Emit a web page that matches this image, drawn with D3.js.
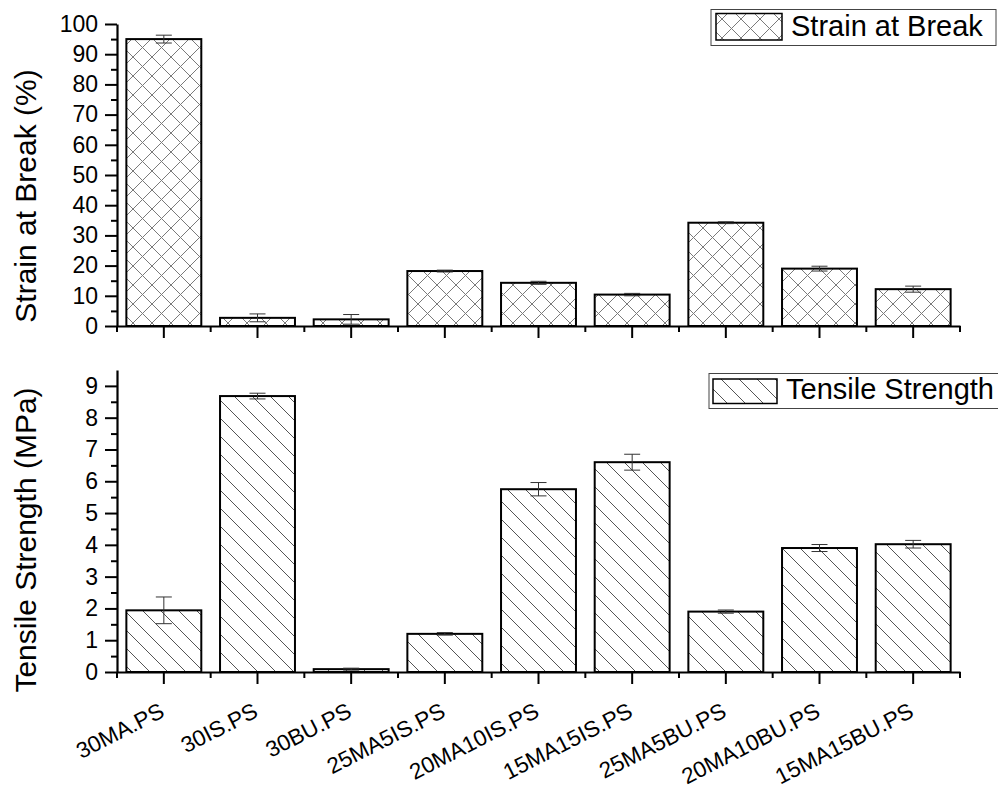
<!DOCTYPE html>
<html>
<head>
<meta charset="utf-8">
<script src="https://cdn.jsdelivr.net/npm/d3@7"></script>
<style>
  html, body { margin: 0; padding: 0; background: #fff; }
  svg { display: block; font-family: "Liberation Sans", Arial, sans-serif; }
</style>
</head>
<body>
<svg id="chart" width="998" height="790"></svg>
<script>
// Sample names along the shared x axis
const categories = ["30MA.PS", "30IS.PS", "30BU.PS", "25MA5IS.PS", "20MA10IS.PS",
                    "15MA15IS.PS", "25MA5BU.PS", "20MA10BU.PS", "15MA15BU.PS"];
// Strain at break (%) and its standard deviation
const strainValues = [95.0, 2.7, 2.2, 18.2, 14.3, 10.4, 34.2, 19.0, 12.2];
const strainErrors = [1.3, 1.3, 1.6, 0.3, 0.5, 0.4, 0.3, 0.8, 1.0];
// Tensile strength (MPa) and its standard deviation
const tensileValues = [1.94, 8.68, 0.09, 1.2, 5.75, 6.6, 1.9, 3.9, 4.02];
const tensileErrors = [0.42, 0.09, 0.03, 0.04, 0.21, 0.25, 0.05, 0.11, 0.12];
// Axis tick values
const strainTicks = [0, 10, 20, 30, 40, 50, 60, 70, 80, 90, 100];
const tensileTicks = [0, 1, 2, 3, 4, 5, 6, 7, 8, 9];

const FONT = "'Liberation Sans', Arial, sans-serif";
const svg = d3.select("#chart");
const defs = svg.append("defs");

// Cross-hatch fill for strain bars
const cross = defs.append("pattern").attr("id", "crosshatch")
  .attr("patternUnits", "userSpaceOnUse").attr("width", 19).attr("height", 19);
cross.append("rect").attr("width", 19).attr("height", 19).attr("fill", "#fff");
cross.append("path").attr("d", "M-1,-1L20,20M20,-1L-1,20")
  .attr("stroke", "#7a7a7a").attr("stroke-width", 1).attr("fill", "none");

// Diagonal hatch fill for tensile bars
const diag = defs.append("pattern").attr("id", "diaghatch")
  .attr("patternUnits", "userSpaceOnUse").attr("width", 18).attr("height", 18);
diag.append("rect").attr("width", 18).attr("height", 18).attr("fill", "#fff");
diag.append("path").attr("d", "M-1,-1L19,19M-3,15L3,21M15,-3L21,3")
  .attr("stroke", "#555").attr("stroke-width", 1).attr("fill", "none");

const x = d3.scaleBand().domain(categories).range([117, 960])
  .paddingInner(0.2).paddingOuter(0.1);

function panel(opts) {
  const { values, errors, ticks, domain, range, fill, title, titleY, legend, showLabels } = opts;
  const y = d3.scaleLinear().domain(domain).range(range);
  const g = svg.append("g");
  const y0 = y(0);

  // bars
  g.selectAll("rect.bar").data(values).join("rect").attr("class", "bar")
    .attr("x", (d, i) => x(categories[i]))
    .attr("y", d => y(d))
    .attr("width", x.bandwidth())
    .attr("height", d => y0 - y(d))
    .attr("fill", `url(#${fill})`)
    .attr("stroke", "#000").attr("stroke-width", 2);

  // error bars
  const cap = 8;
  const eb = g.selectAll("g.err").data(values).join("g").attr("class", "err")
    .attr("stroke", "#333").attr("stroke-width", 1);
  eb.append("line")
    .attr("x1", (d, i) => x(categories[i]) + x.bandwidth() / 2)
    .attr("x2", (d, i) => x(categories[i]) + x.bandwidth() / 2)
    .attr("y1", (d, i) => y(d + errors[i]))
    .attr("y2", (d, i) => y(d - errors[i]));
  [1, -1].forEach(s => {
    eb.append("line")
      .attr("x1", (d, i) => x(categories[i]) + x.bandwidth() / 2 - cap)
      .attr("x2", (d, i) => x(categories[i]) + x.bandwidth() / 2 + cap)
      .attr("y1", (d, i) => y(d + s * errors[i]))
      .attr("y2", (d, i) => y(d + s * errors[i]));
  });

  // y axis: major and minor ticks
  const minorY = d3.range(domain[0] + (ticks[1] - ticks[0]) / 2, domain[1], ticks[1] - ticks[0]);
  g.append("g").attr("transform", "translate(117,0)")
    .call(d3.axisLeft(y).tickValues(minorY).tickSize(6).tickSizeOuter(0).tickFormat(""))
    .call(a => a.select(".domain").remove())
    .call(a => a.selectAll("line").attr("stroke", "#000").attr("stroke-width", 2));
  const ya = g.append("g").attr("transform", "translate(117,0)")
    .call(d3.axisLeft(y).tickValues(ticks).tickSize(12).tickSizeOuter(0).tickPadding(7));
  ya.select(".domain").attr("stroke", "#000").attr("stroke-width", 2.2);
  ya.selectAll("line").attr("stroke", "#000").attr("stroke-width", 2);
  ya.selectAll("text").attr("font-size", 23).attr("fill", "#000").attr("font-family", FONT);

  // x axis: major ticks at bar centres, minor ticks between bars
  const xa = g.append("g").attr("transform", `translate(0,${y0})`)
    .call(d3.axisBottom(x).tickSize(12).tickSizeOuter(0).tickPadding(10));
  xa.select(".domain").attr("stroke", "#000").attr("stroke-width", 2.2);
  xa.selectAll("line").attr("stroke", "#000").attr("stroke-width", 2);
  if (showLabels) {
    xa.selectAll(".tick text")
      .attr("font-size", 22.5).attr("fill", "#000").attr("font-family", FONT)
      .attr("text-anchor", "end")
      .attr("dy", null).attr("y", null)
      .attr("transform", "translate(2,44) rotate(-27)");
  } else {
    xa.selectAll(".tick text").remove();
  }
  const bounds = d3.range(categories.length + 1).map(i => x.range()[0] + i * x.step());
  g.selectAll("line.minorx").data(bounds).join("line").attr("class", "minorx")
    .attr("x1", d => d).attr("x2", d => d)
    .attr("y1", y0).attr("y2", y0 + 6)
    .attr("stroke", "#000").attr("stroke-width", 2);

  // axis title
  g.append("text")
    .attr("transform", `translate(36,${titleY}) rotate(-90)`)
    .attr("text-anchor", "middle").attr("font-size", 30).attr("fill", "#000")
    .text(title);

  // legend
  const lg = g.append("g");
  lg.append("rect").attr("x", legend.bx).attr("y", legend.by)
    .attr("width", legend.bw).attr("height", legend.bh)
    .attr("fill", "#fff").attr("stroke", "#444").attr("stroke-width", 1);
  lg.append("rect").attr("x", legend.sx).attr("y", legend.sy)
    .attr("width", legend.sw).attr("height", legend.sh)
    .attr("fill", `url(#${fill})`).attr("stroke", "#000").attr("stroke-width", 1.5);
  lg.append("text").attr("x", legend.tx).attr("y", legend.ty)
    .attr("font-size", 29).attr("fill", "#000").text(legend.text);
}

panel({
  values: strainValues, errors: strainErrors, ticks: strainTicks,
  domain: [0, 100], range: [326, 24], fill: "crosshatch",
  title: "Strain at Break (%)", titleY: 196, showLabels: false,
  legend: { bx: 711, by: 9.5, bw: 285, bh: 36, sx: 716, sy: 13.5, sw: 66, sh: 26.5,
            tx: 791, ty: 36, text: "Strain at Break" }
});

panel({
  values: tensileValues, errors: tensileErrors, ticks: tensileTicks,
  domain: [0, 9.5], range: [672, 370], fill: "diaghatch",
  title: "Tensile Strength (MPa)", titleY: 540, showLabels: true,
  legend: { bx: 709, by: 373.5, bw: 300, bh: 35, sx: 713, sy: 379, sw: 64, sh: 24.5,
            tx: 786, ty: 399, text: "Tensile Strength" }
});
</script>
</body>
</html>
